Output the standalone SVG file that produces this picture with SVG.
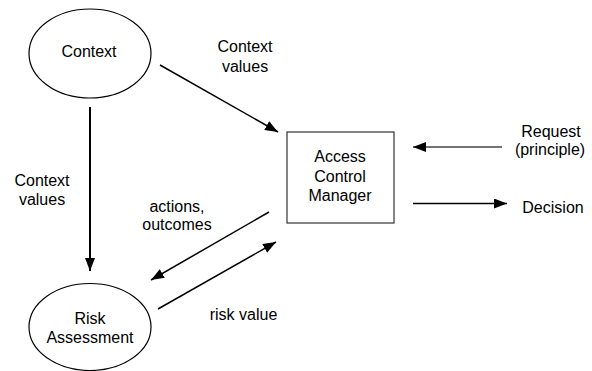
<svg xmlns="http://www.w3.org/2000/svg" width="592" height="371" viewBox="0 0 592 371">
<style>
text{font-family:"Liberation Sans",Arial,sans-serif;font-size:16px;fill:#000;text-anchor:middle}
.shape{fill:#fff;stroke:#000;stroke-width:1.2}
.conn{stroke:#000;stroke-width:1.5;fill:none;marker-end:url(#ah)}
</style>
<defs>
<marker id="ah" markerUnits="userSpaceOnUse" markerWidth="14" markerHeight="10" refX="13" refY="5" orient="auto">
<path d="M0,0 L13,5 L0,10 Z" fill="#000"/>
</marker>
</defs>
<rect width="592" height="371" fill="#fff"/>
<g id="context">
<ellipse class="shape" cx="90" cy="53.5" rx="61" ry="44.5"/>
<text x="89" y="57">Context</text>
</g>
<g id="risk">
<ellipse class="shape" cx="90" cy="327" rx="61" ry="43.5"/>
<text x="90" y="324">Risk</text>
<text x="90" y="343">Assessment</text>
</g>
<g id="acm">
<rect class="shape" x="287" y="132" width="107" height="91" style="stroke:#333"/>
<text x="340" y="162">Access</text>
<text x="340" y="181.5">Control</text>
<text x="340" y="201">Manager</text>
</g>
<g id="connectors">
<line class="conn" x1="160" y1="65" x2="278" y2="132"/>
<line class="conn" x1="90" y1="107" x2="90" y2="271" style="stroke-width:2"/>
<line class="conn" x1="502" y1="147" x2="413" y2="147" style="stroke:#444"/>
<line class="conn" x1="413" y1="203.5" x2="507" y2="203.5"/>
<line class="conn" x1="269" y1="212" x2="151" y2="280"/>
<line class="conn" x1="158" y1="309" x2="276" y2="242"/>
</g>
<g id="labels">
<text x="245" y="52">Context</text>
<text x="245" y="72">values</text>
<text x="42" y="186">Context</text>
<text x="42" y="205">values</text>
<text x="551" y="137">Request</text>
<text x="550" y="155">(principle)</text>
<text x="553" y="213">Decision</text>
<text x="177" y="212">actions,</text>
<text x="177" y="230">outcomes</text>
<text x="243.5" y="320">risk value</text>
</g>
</svg>
